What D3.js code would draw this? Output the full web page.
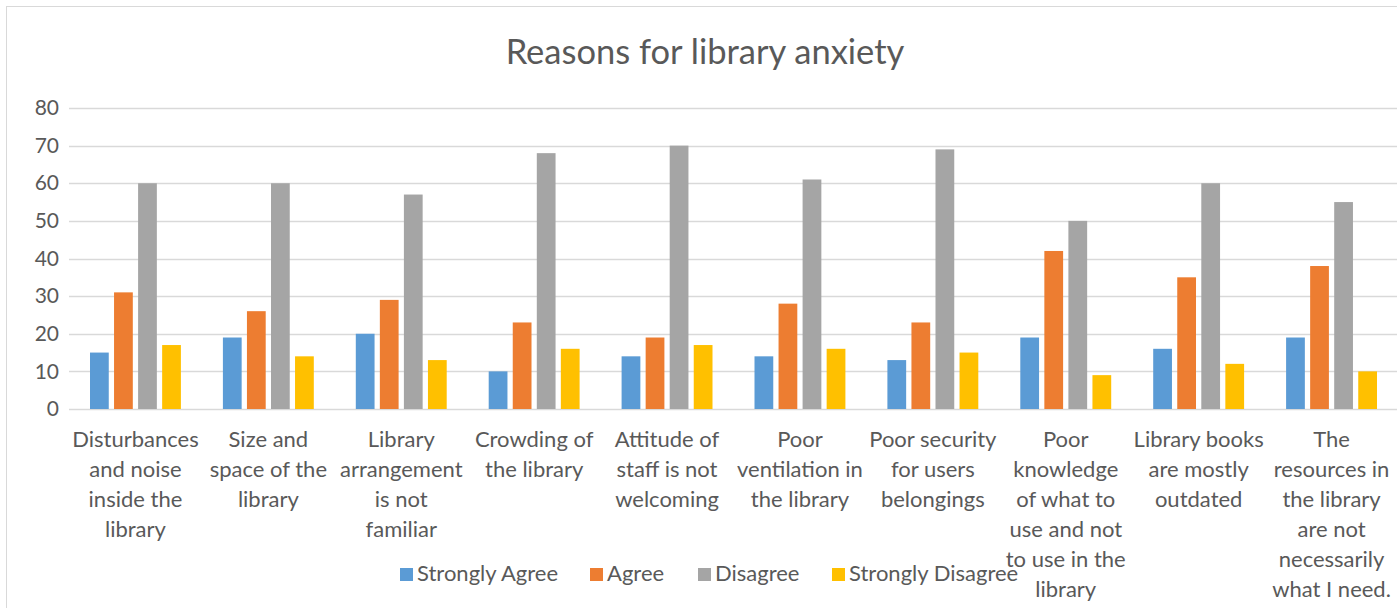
<!DOCTYPE html>
<html>
<head>
<meta charset="utf-8">
<script src="https://cdn.jsdelivr.net/npm/d3@7"></script>
<style>
  html, body { margin: 0; padding: 0; background: #fff; }
  svg { display: block; font-family: Lato, "Open Sans", sans-serif; }
</style>
</head>
<body>
<svg id="chart" width="1397" height="608"></svg>
<script>
// categories (line breaks as in the original chart)
const categories = [
  'Disturbances\nand noise\ninside the\nlibrary',
  'Size and\nspace of the\nlibrary',
  'Library\narrangement\nis not\nfamiliar',
  'Crowding of\nthe library',
  'Attitude of\nstaff is not\nwelcoming',
  'Poor\nventilation in\nthe library',
  'Poor security\nfor users\nbelongings',
  'Poor\nknowledge\nof what to\nuse and not\nto use in the\nlibrary',
  'Library books\nare mostly\noutdated',
  'The\nresources in\nthe library\nare not\nnecessarily\nwhat I need.'
];

const seriesNames = ['Strongly Agree', 'Agree', 'Disagree', 'Strongly Disagree'];
const seriesColors = ['#5B9BD5', '#ED7D31', '#A5A5A5', '#FFC000'];

const stronglyAgree    = [15, 19, 20, 10, 14, 14, 13, 19, 16, 19];
const agree            = [31, 26, 29, 23, 19, 28, 23, 42, 35, 38];
const disagree         = [60, 60, 57, 68, 70, 61, 69, 50, 60, 55];
const stronglyDisagree = [17, 14, 13, 16, 17, 16, 15,  9, 12, 10];

const yTicks = [0, 10, 20, 30, 40, 50, 60, 70, 80];

const allSeries = [stronglyAgree, agree, disagree, stronglyDisagree];

const svg = d3.select('#chart');
const W = 1397, H = 608;
const plot = { left: 69, right: 1398, top: 108, bottom: 409 };
const textColor = '#595959';

// chart border
svg.append('rect')
  .attr('x', 6.5).attr('y', 6.5)
  .attr('width', W).attr('height', H)
  .attr('fill', 'none')
  .attr('stroke', '#d9d9d9');

// title
svg.append('text')
  .attr('x', 705).attr('y', 64)
  .attr('text-anchor', 'middle')
  .attr('fill', textColor)
  .style('font-size', '34.5px')
  .text('Reasons for library anxiety');

const x0 = d3.scaleBand()
  .domain(d3.range(categories.length))
  .range([plot.left, plot.right])
  .paddingInner(0.316)
  .paddingOuter(0.158);

const x1 = d3.scaleBand()
  .domain(d3.range(seriesNames.length))
  .range([0, x0.bandwidth()])
  .paddingInner(0.22);

const y = d3.scaleLinear()
  .domain([0, 80])
  .range([plot.bottom, plot.top]);

// gridlines
svg.append('g')
  .selectAll('line')
  .data(yTicks)
  .join('line')
    .attr('x1', plot.left).attr('x2', plot.right)
    .attr('y1', d => Math.round(y(d)) + 0.5)
    .attr('y2', d => Math.round(y(d)) + 0.5)
    .attr('stroke', '#d9d9d9')
    .attr('stroke-width', 1.5);

// y axis labels
const yAxis = svg.append('g')
  .attr('transform', `translate(${plot.left - 10},0)`)
  .call(d3.axisLeft(y).tickValues(yTicks).tickSize(0).tickPadding(0));
yAxis.select('.domain').remove();
yAxis.selectAll('text')
  .attr('fill', textColor)
  .style('font-size', '21px')
  .style('font-family', 'Lato, "Open Sans", sans-serif');

// bars
const groups = svg.append('g')
  .selectAll('g')
  .data(categories.map((c, i) => i))
  .join('g')
    .attr('transform', i => `translate(${x0(i)},0)`);

groups.selectAll('rect')
  .data(i => allSeries.map((s, k) => ({ k, v: s[i] })))
  .join('rect')
    .attr('x', d => x1(d.k))
    .attr('y', d => y(d.v))
    .attr('width', x1.bandwidth())
    .attr('height', d => y(0) - y(d.v))
    .attr('fill', d => seriesColors[d.k]);

// category labels
const lineH = 30;
svg.append('g')
  .selectAll('text')
  .data(categories)
  .join('text')
    .attr('text-anchor', 'middle')
    .attr('fill', textColor)
    .style('font-size', '22px')
    .attr('transform', (d, i) => `translate(${x0(i) + x0.bandwidth() / 2},${plot.bottom + 38})`)
    .selectAll('tspan')
    .data(d => d.split('\n'))
    .join('tspan')
      .attr('x', 0)
      .attr('y', (d, j) => j * lineH)
      .text(d => d);

// legend
const legendX = [400, 590, 698, 832];
const legend = svg.append('g')
  .selectAll('g')
  .data(seriesNames)
  .join('g')
    .attr('transform', (d, i) => `translate(${legendX[i]},568)`);
legend.append('rect')
  .attr('width', 13).attr('height', 13)
  .attr('fill', (d, i) => seriesColors[i]);
legend.append('text')
  .attr('x', 17).attr('y', 13)
  .attr('fill', textColor)
  .style('font-size', '22px')
  .text(d => d);
</script>
</body>
</html>
